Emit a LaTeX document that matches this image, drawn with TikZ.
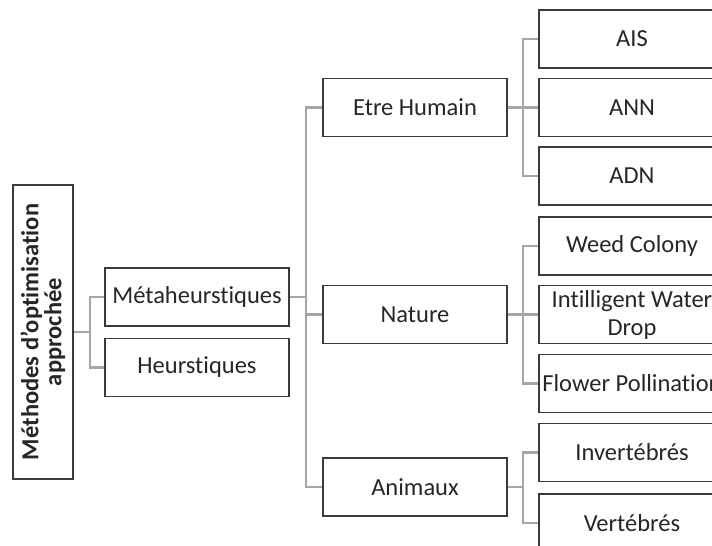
\documentclass[tikz,border=0pt]{standalone}
\usepackage{fontspec}
\setmainfont{Carlito}[Ligatures=NoCommon]
\usepackage{tikz}
\definecolor{boxline}{HTML}{3A3A3A}
\definecolor{linkgray}{HTML}{A6A6A6}
\definecolor{textgray}{HTML}{262626}

\begin{document}
\begin{tikzpicture}[x=1pt, y=-1pt,
  box/.style={draw=boxline, line width=1.8pt, fill=white, text=textgray, minimum width=184pt, minimum height=58pt, inner sep=1pt, align=center, font=\fontsize{24.5}{28}\selectfont},
  leaf/.style={box, minimum width=186pt},
  link/.style={draw=linkgray, line width=2.4pt}]
\useasboundingbox (0,0) rectangle (712,546);
\clip (0,0) rectangle (712,546);
% columns of the tree
\coordinate (fork1) at (90,0);
\coordinate (trunk) at (306,0);
\coordinate (fork2) at (523,0);
\node[box, rotate=90, minimum width=294pt, minimum height=60pt, font=\fontsize{24.5}{23}\selectfont\bfseries] (root) at (43,332) {Méthodes d’optimisation\\approchée};
\node[box] (meta) at (197,297) {Métaheurstiques};
\node[box] (heur) at (197,367.5) {Heurstiques};
\node[box] (eh) at (415,107.5) {Etre Humain};
\node[box] (nat) at (415,314.5) {Nature};
\node[box] (an) at (415,487) {Animaux};
\node[leaf] (ais) at (632,39) {AIS};
\node[leaf] (ann) at (632,107.5) {ANN};
\node[leaf] (adn) at (632,176) {ADN};
\node[leaf] (weed) at (632,246) {Weed Colony};
\node[leaf] (iwd) at (632,314.5) {Intilligent Water\\Drop};
\node[leaf] (flow) at (632,383.5) {Flower Pollination};
\node[leaf] (inv) at (632,452.5) {Invertébrés};
\node[leaf] (vert) at (632,523) {Vertébrés};
% connectors
\draw[link] (root.south) -- (root.south -| fork1);
\draw[link] (meta.west) -| (fork1 |- heur.west) -- (heur.west);
\draw[link] (meta.east) -- (meta.east -| trunk);
\draw[link] (eh.west) -| (trunk |- an.west) -- (an.west);
\draw[link] (nat.west) -- (nat.west -| trunk);
\draw[link] (eh.east) -- (eh.east -| fork2);
\draw[link] (ais.west) -| (fork2 |- adn.west) -- (adn.west);
\draw[link] (ann.west) -- (ann.west -| fork2);
\draw[link] (nat.east) -- (nat.east -| fork2);
\draw[link] (weed.west) -| (fork2 |- flow.west) -- (flow.west);
\draw[link] (iwd.west) -- (iwd.west -| fork2);
\draw[link] (an.east) -- (an.east -| fork2);
\draw[link] (inv.west) -| (fork2 |- vert.west) -- (vert.west);
\end{tikzpicture}
\end{document}
